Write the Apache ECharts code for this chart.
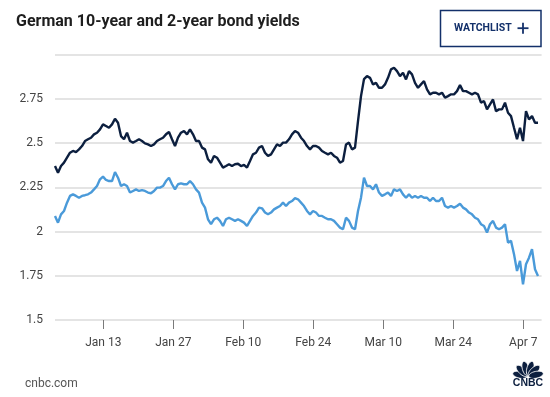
<!DOCTYPE html>
<html>
<head>
<meta charset="utf-8">
<script src="https://cdn.jsdelivr.net/npm/echarts@6/dist/echarts.min.js"></script>
<style>
html,body{margin:0;padding:0;background:#fff;}
#chart{width:550px;height:397px;}
</style>
</head>
<body>
<div id="chart"></div>
<script>
// ---- data ----
const titleText = 'German 10-year and 2-year bond yields';
const sourceText = 'cnbc.com';
const startTime = '2025-01-03T08:10:00Z';
const endTime = '2025-04-10T15:50:00Z';
const sampleStepHours = 14.4;
const tickDates = ['2025-01-13','2025-01-27','2025-02-10','2025-02-24','2025-03-10','2025-03-24','2025-04-07'];
const tickLabels = ['Jan 13','Jan 27','Feb 10','Feb 24','Mar 10','Mar 24','Apr 7'];
const yTickValues = [1.5, 1.75, 2, 2.25, 2.5, 2.75, 3];
const yTickLabels = ['1.5', '1.75', '2', '2.25', '2.5', '2.75', ''];

const bund10y = [
2.370,2.332,2.370,2.389,2.417,2.445,2.455,2.449,2.464,2.483,
2.511,2.521,2.530,2.549,2.558,2.577,2.605,2.596,2.586,2.605,
2.637,2.614,2.539,2.521,2.558,2.511,2.502,2.511,2.521,2.511,
2.498,2.492,2.483,2.492,2.511,2.521,2.530,2.549,2.562,2.521,
2.483,2.530,2.558,2.568,2.549,2.577,2.549,2.511,2.511,2.474,
2.464,2.408,2.389,2.427,2.417,2.389,2.361,2.370,2.380,2.370,
2.380,2.383,2.370,2.376,2.361,2.398,2.436,2.445,2.474,2.483,
2.445,2.427,2.436,2.464,2.492,2.483,2.502,2.502,2.521,2.549,
2.568,2.558,2.530,2.511,2.483,2.464,2.483,2.483,2.474,2.455,
2.445,2.436,2.445,2.427,2.417,2.389,2.398,2.492,2.502,2.464,
2.474,2.624,2.765,2.861,2.878,2.868,2.831,2.840,2.812,2.812,
2.831,2.868,2.916,2.925,2.906,2.878,2.897,2.859,2.906,2.888,
2.840,2.812,2.831,2.850,2.803,2.775,2.784,2.784,2.775,2.784,
2.756,2.765,2.775,2.775,2.793,2.827,2.793,2.793,2.784,2.775,
2.784,2.775,2.728,2.737,2.690,2.718,2.746,2.680,2.690,2.690,
2.728,2.671,2.652,2.586,2.522,2.586,2.511,2.680,2.633,2.652,
2.614,2.614
];
const schatz2y = [
2.088,2.050,2.097,2.116,2.163,2.201,2.210,2.201,2.191,2.201,
2.205,2.210,2.220,2.238,2.257,2.295,2.310,2.291,2.285,2.285,
2.336,2.304,2.257,2.267,2.257,2.220,2.229,2.238,2.229,2.234,
2.229,2.220,2.216,2.229,2.248,2.248,2.257,2.285,2.304,2.267,
2.238,2.267,2.272,2.267,2.267,2.285,2.267,2.238,2.220,2.163,
2.135,2.069,2.041,2.069,2.078,2.060,2.031,2.069,2.078,2.069,
2.060,2.069,2.060,2.050,2.031,2.060,2.088,2.107,2.135,2.131,
2.107,2.097,2.107,2.125,2.135,2.144,2.163,2.144,2.163,2.172,
2.188,2.182,2.163,2.144,2.116,2.097,2.116,2.107,2.088,2.088,
2.078,2.069,2.069,2.060,2.041,2.022,2.013,2.078,2.060,2.022,
2.013,2.116,2.191,2.304,2.257,2.257,2.238,2.267,2.220,2.201,
2.210,2.220,2.201,2.238,2.229,2.238,2.210,2.191,2.210,2.191,
2.201,2.191,2.201,2.191,2.191,2.172,2.191,2.172,2.172,2.191,
2.144,2.135,2.144,2.135,2.144,2.157,2.135,2.125,2.107,2.097,
2.078,2.069,2.041,2.031,1.994,2.041,2.060,2.022,2.013,2.022,
2.041,1.937,1.947,1.872,1.777,1.834,1.702,1.815,1.852,1.900,
1.787,1.749
];

// ---- build ----
const t0 = Date.parse(startTime);
const stepMs = sampleStepHours * 3600 * 1000;
const toPairs = arr => arr.map((v, i) => [t0 + i * stepMs, v]);
const tickTimes = tickDates.map(d => Date.parse(d + 'T00:00:00Z'));

const NAVY = '#0c1f3f';
const BTN = '#13306a';
const chart = echarts.init(document.getElementById('chart'), null, {renderer: 'canvas'});

// peacock feathers for logo
const feathers = [];
const featherAngles = [-78, -47, -16, 16, 47, 78];
featherAngles.forEach(a => {
  feathers.push({
    type: 'ellipse',
    x: 528, y: 376.5,
    rotation: -a * Math.PI / 180,
    shape: {cx: 0, cy: -8.2, rx: 3.4, ry: 7.4},
    style: {fill: NAVY, stroke: '#fff', lineWidth: 0.8},
    silent: true
  });
});

chart.setOption({
  animation: false,
  backgroundColor: '#fff',
  grid: {left: 55, right: 8.4, top: 54.5, bottom: 77, containLabel: false},
  xAxis: {
    type: 'value',
    min: t0,
    max: Date.parse(endTime),
    axisLine: {show: false},
    splitLine: {show: false},
    axisTick: {show: true, customValues: tickTimes, length: 9, lineStyle: {color: '#7a7a7a', width: 1}},
    axisLabel: {
      customValues: tickTimes,
      formatter: v => { const i = tickTimes.indexOf(v); return i >= 0 ? tickLabels[i] : ''; },
      margin: 17,
      color: '#444',
      fontFamily: 'Roboto',
      fontSize: 12
    }
  },
  yAxis: {
    type: 'value',
    min: 1.5, max: 3, interval: 0.25,
    axisLine: {show: false},
    axisTick: {show: false},
    splitLine: {show: true, lineStyle: {color: '#e4e4e4', width: 2}},
    axisLabel: {
      formatter: v => { const i = yTickValues.findIndex(t => Math.abs(t - v) < 1e-9); return i >= 0 ? yTickLabels[i] : ''; },
      margin: 12,
      color: '#444',
      fontFamily: 'Roboto',
      fontSize: 12
    }
  },
  series: [
    {
      name: 'German 10-year', type: 'line', data: toPairs(bund10y),
      showSymbol: false, smooth: false,
      lineStyle: {color: NAVY, width: 2.4}, itemStyle: {color: NAVY}
    },
    {
      name: 'German 2-year', type: 'line', data: toPairs(schatz2y),
      showSymbol: false, smooth: false,
      lineStyle: {color: '#4a9ad9', width: 2.4}, itemStyle: {color: '#4a9ad9'}
    }
  ],
  graphic: [
    {type: 'text', left: 16, top: 14, style: {text: titleText, fill: '#1e1e1e', font: 'bold 16px Roboto'}},
    {type: 'rect', shape: {x: 440.5, y: 10.5, width: 100.5, height: 36}, style: {fill: '#fff', stroke: BTN, lineWidth: 1.5}},
    {type: 'text', x: 454, y: 28.5, style: {text: 'WATCHLIST', fill: BTN, font: 'bold 10.5px Roboto', textVerticalAlign: 'middle'}},
    {type: 'rect', shape: {x: 517.5, y: 27.3, width: 11, height: 1.8}, style: {fill: BTN}},
    {type: 'rect', shape: {x: 522.1, y: 22.7, width: 1.8, height: 11}, style: {fill: BTN}},
    {type: 'text', x: 25, y: 383.5, style: {text: sourceText, fill: '#555', font: '12px Roboto', textVerticalAlign: 'middle'}},
    ...feathers,
    {type: 'text', x: 528, y: 383.5, style: {text: 'CNBC', fill: NAVY, font: 'bold 10.5px "Liberation Sans"', textAlign: 'center', textVerticalAlign: 'middle'}}
  ]
});
</script>
</body>
</html>
